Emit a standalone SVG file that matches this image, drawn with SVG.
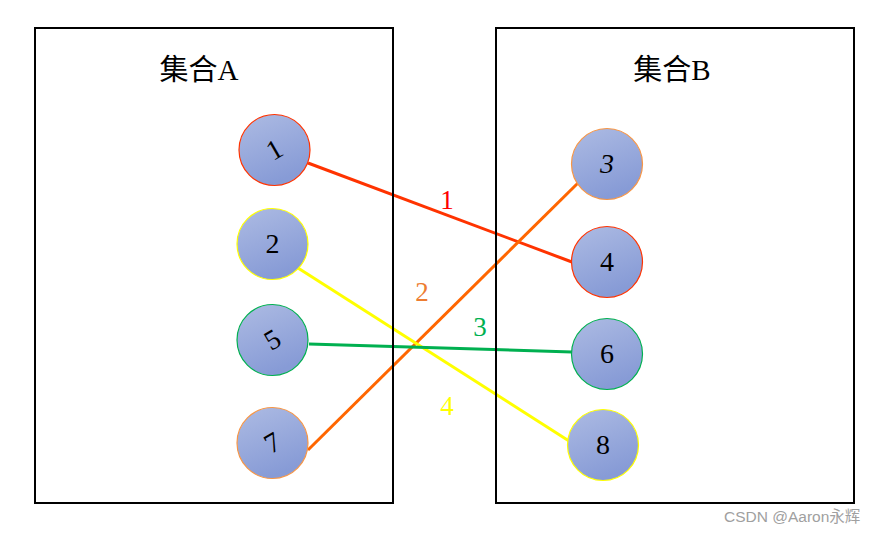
<svg xmlns="http://www.w3.org/2000/svg" width="878" height="534" viewBox="0 0 878 534">
<defs>
<linearGradient id="g" x1="0" y1="0" x2="0.4" y2="1">
<stop offset="0" stop-color="#adbbe3"/>
<stop offset="1" stop-color="#879bd6"/>
</linearGradient>
<style>
.box{fill:none;stroke:#000;stroke-width:2}
.title{font-family:"Liberation Serif","Noto Sans CJK SC",serif;font-size:29px;text-anchor:middle;fill:#000}
.node circle{fill:url(#g);stroke-width:1.2}
.node text{font-family:"Liberation Serif",serif;font-size:28px;text-anchor:middle;fill:#000}
.conn line{stroke-width:3}
.lbl{font-family:"Liberation Serif",serif;font-size:27px;text-anchor:middle}
.wm{font-family:"Liberation Sans","Noto Sans CJK SC",sans-serif;font-size:15.5px;fill:#a0a0a0}
</style>
</defs>
<rect width="878" height="534" fill="#fff"/>
<g id="connectors" class="conn">
<line x1="308" y1="163" x2="572" y2="262" stroke="#ff3300"/>
<line x1="308" y1="450" x2="579" y2="182" stroke="#ff6600"/>
<line x1="298" y1="268" x2="569" y2="441" stroke="#ffff00"/>
<line x1="309" y1="344" x2="572" y2="352" stroke="#00b050"/>
<text class="lbl" x="447" y="209" fill="#ff0000">1</text>
<text class="lbl" x="422" y="301" fill="#ed7d31">2</text>
<text class="lbl" x="480" y="336" fill="#00b050">3</text>
<text class="lbl" x="447" y="415" fill="#ffff00">4</text>
</g>
<g id="setA">
<rect class="box" x="35" y="28" width="358" height="475"/>
<text class="title" x="199" y="80">集合A</text>
</g>
<g id="setB">
<rect class="box" x="496" y="28" width="358" height="475"/>
<text class="title" x="672" y="80">集合B</text>
</g>
<g id="n1" class="node"><circle cx="274.5" cy="150" r="35.5" stroke="#ff3300"/><text x="274.5" y="159" transform="rotate(-30 274.5 150)">1</text></g>
<g id="n2" class="node"><circle cx="272.5" cy="244" r="35.5" stroke="#ffff00"/><text x="272.5" y="253">2</text></g>
<g id="n5" class="node"><circle cx="272.5" cy="340" r="35.5" stroke="#00b050"/><text x="272.5" y="349" transform="rotate(-30 272.5 340)">5</text></g>
<g id="n7" class="node"><circle cx="272.5" cy="443" r="35.5" stroke="#f79646"/><text x="272.5" y="452" transform="rotate(-30 272.5 443)">7</text></g>
<g id="n3" class="node"><circle cx="607" cy="164" r="35.5" stroke="#f79646"/><text x="607" y="173" font-style="italic">3</text></g>
<g id="n4" class="node"><circle cx="607" cy="262" r="35.5" stroke="#ff3300"/><text x="607" y="271">4</text></g>
<g id="n6" class="node"><circle cx="607" cy="354" r="35.5" stroke="#00b050"/><text x="607" y="363">6</text></g>
<g id="n8" class="node"><circle cx="603" cy="445" r="35.5" stroke="#ffff00"/><text x="603" y="454">8</text></g>
<text class="wm" x="724" y="522">CSDN @Aaron永辉</text>
</svg>
